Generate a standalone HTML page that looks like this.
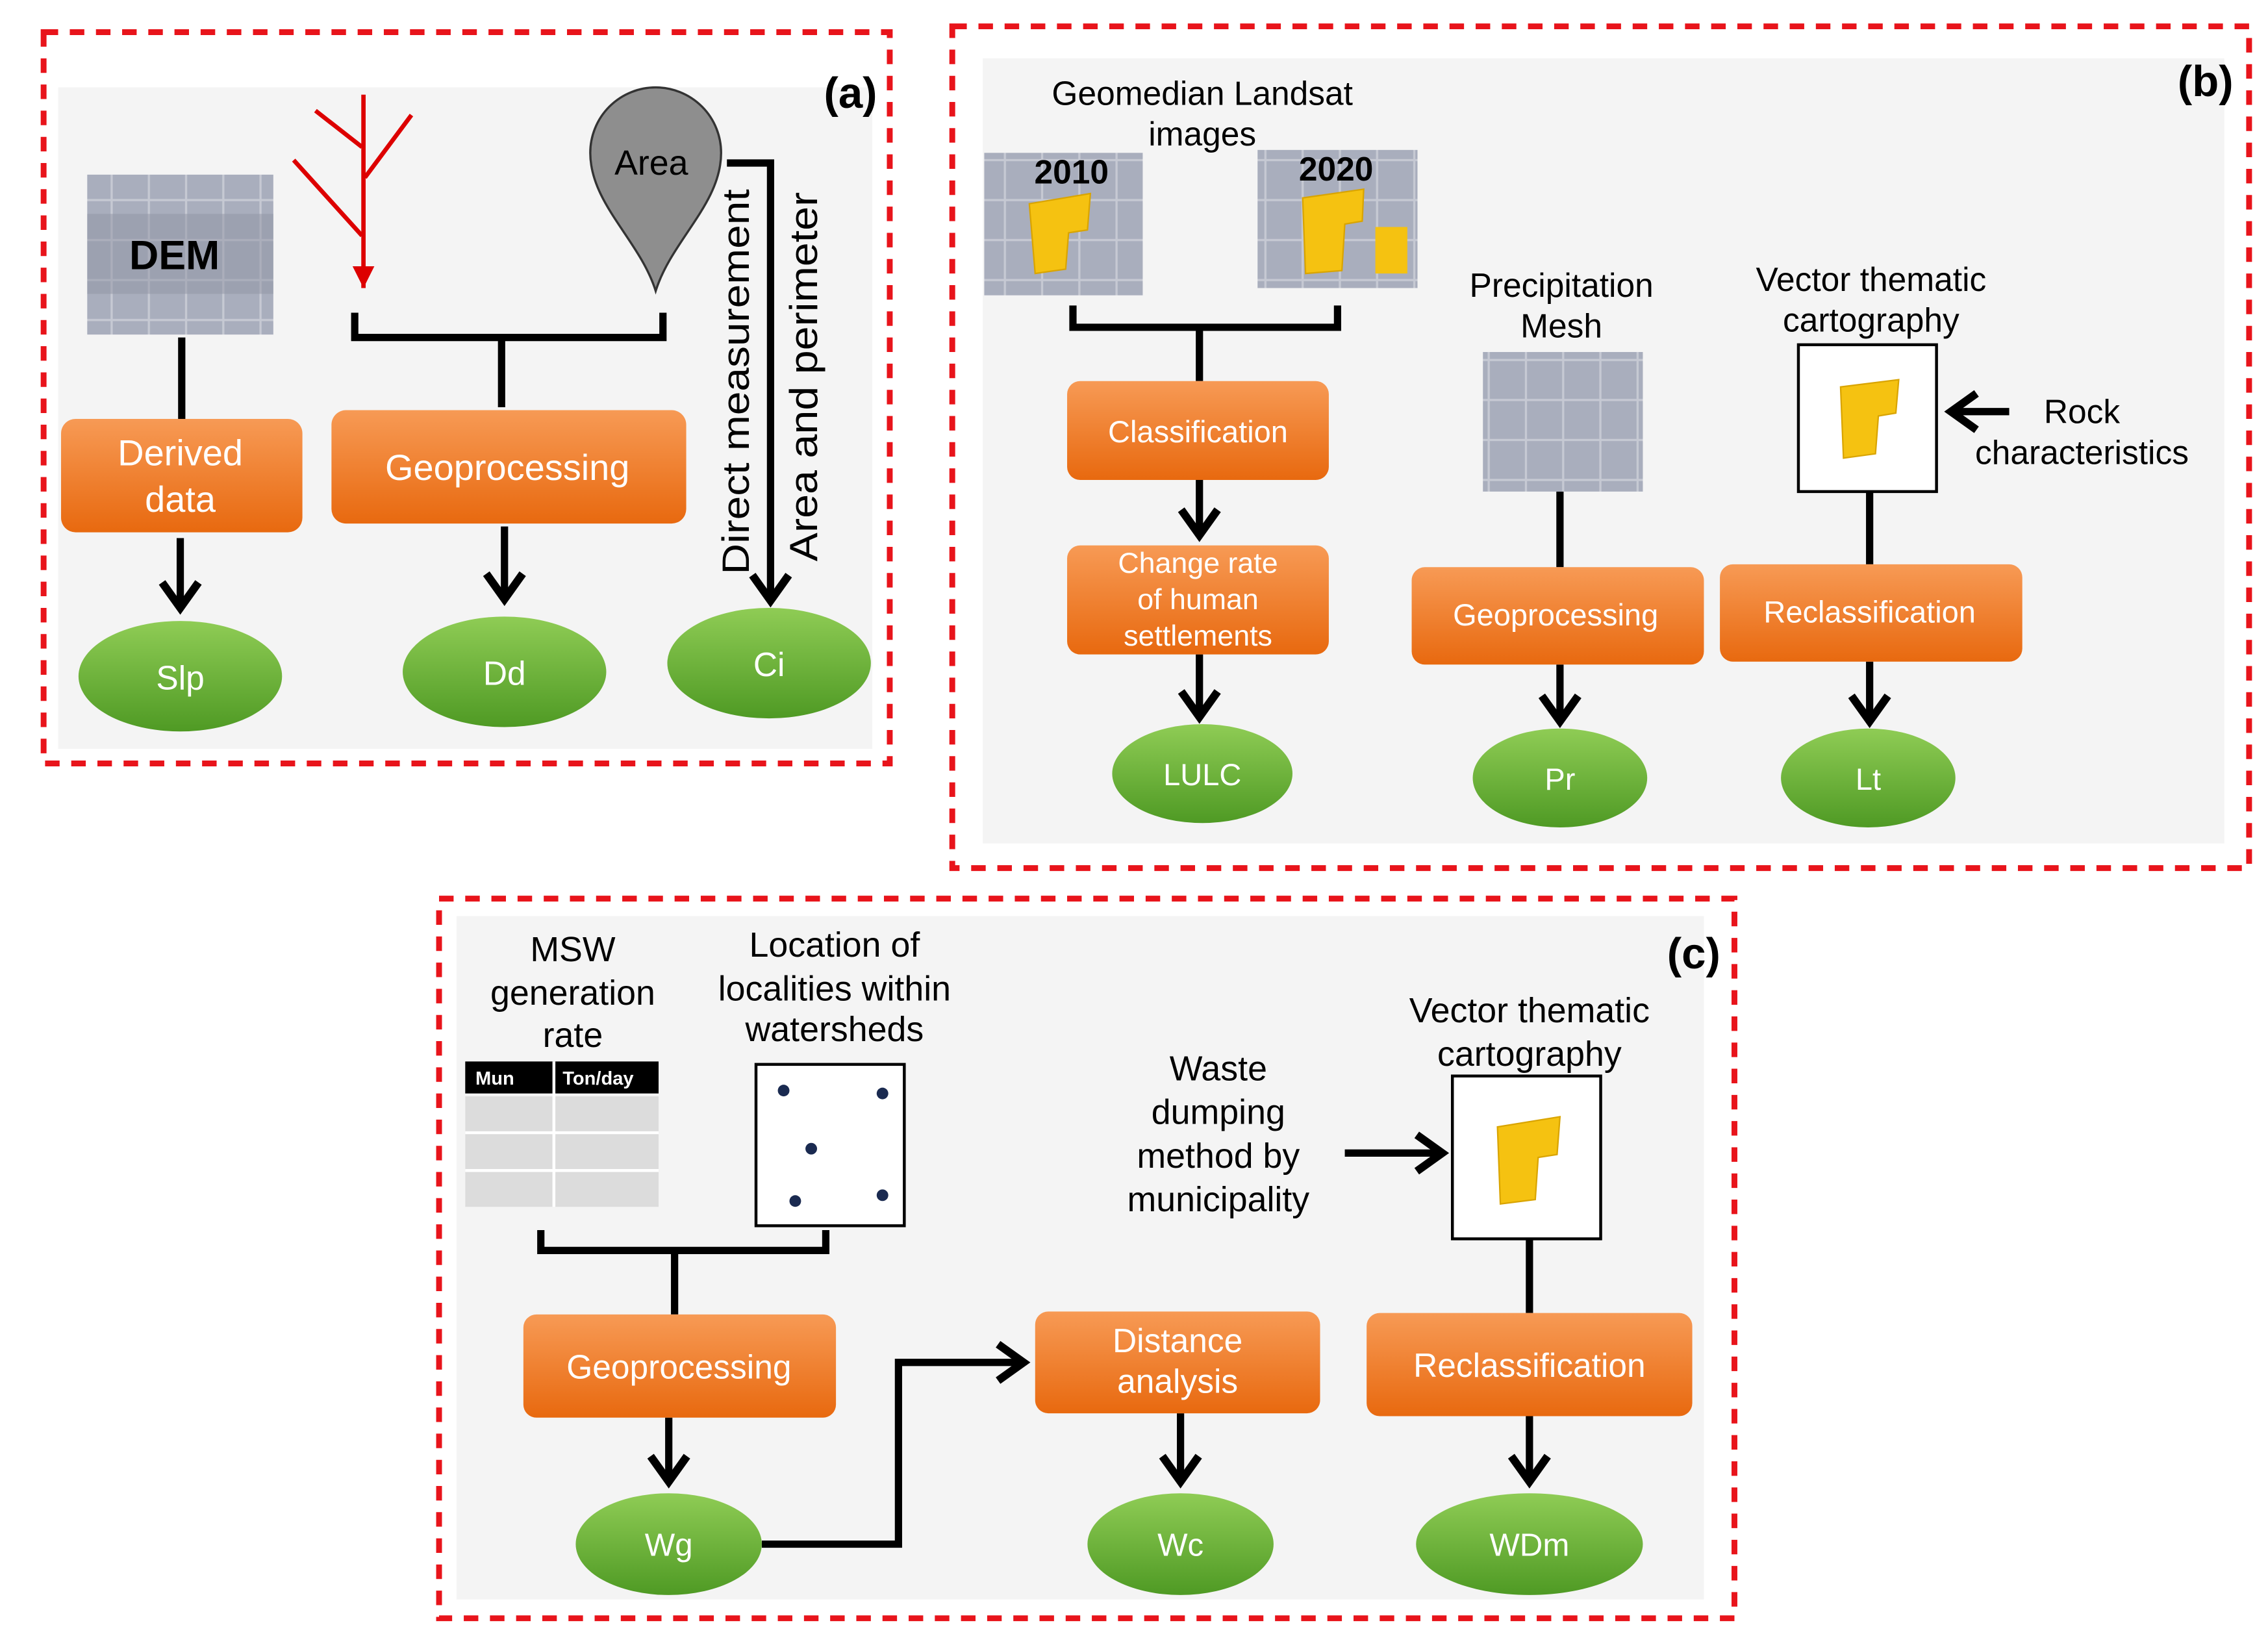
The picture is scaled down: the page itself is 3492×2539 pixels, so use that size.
<!DOCTYPE html>
<html><head><meta charset="utf-8"><style>
html,body{margin:0;padding:0;background:#fff;}
svg{display:block;}
text{font-family:"Liberation Sans",Arial,sans-serif;}
</style></head><body>
<svg width="3492" height="2539" viewBox="0 0 1560 1134" xmlns="http://www.w3.org/2000/svg">
<defs>
<linearGradient id="og" x1="0" y1="0" x2="0" y2="1"><stop offset="0" stop-color="#f79a55"/><stop offset="1" stop-color="#e8690f"/></linearGradient>
<linearGradient id="gg" x1="0" y1="0" x2="0" y2="1"><stop offset="0" stop-color="#8fcc55"/><stop offset="1" stop-color="#4f9a24"/></linearGradient>
<marker id="ah" markerWidth="6" markerHeight="6" refX="4" refY="3" orient="auto" markerUnits="strokeWidth"><path d="M0.5,0.5 L4,3 L0.5,5.5" fill="none" stroke="#000" stroke-width="1.1"/></marker>
<marker id="ar" markerWidth="6" markerHeight="6" refX="5" refY="3" orient="auto" markerUnits="strokeWidth"><path d="M0,0.5 L5,3 L0,5.5 Z" fill="#d00"/></marker>
<pattern id="grid" width="25.6" height="27.5" patternUnits="userSpaceOnUse"><rect width="25.6" height="27.5" fill="#a9aebd" stroke="#c6c9d3" stroke-width="1.5"/></pattern>
</defs>
<g stroke-linecap="butt">
<!-- Panel a -->
<rect x="40" y="60" width="560" height="455" fill="#f4f4f4"/>
<rect x="30" y="22" width="582" height="503" fill="none" stroke="#e8141b" stroke-width="4" stroke-dasharray="10,8"/>
<text x="585" y="74" font-size="30" font-weight="bold" text-anchor="middle">(a)</text>
<rect x="60" y="120" width="128" height="110" fill="url(#grid)"/>
<rect x="60" y="147" width="128" height="55" fill="#8f94a4" opacity="0.5"/>
<text x="120" y="185" font-size="28" font-weight="bold" text-anchor="middle">DEM</text>
<g stroke="#d00" stroke-width="3" fill="none">
<line x1="250" y1="65" x2="250" y2="198" marker-end="url(#ar)"/>
<line x1="202" y1="110" x2="249" y2="162"/>
<line x1="217" y1="76" x2="249" y2="101"/>
<line x1="283" y1="79" x2="251" y2="122"/>
</g>
<path d="M451,200 C440,165 406,140 406,105 A45,45 0 1 1 496,105 C496,140 462,165 451,200 Z" fill="#8e8e8e" stroke="#333" stroke-width="1.5"/>
<text x="448" y="120" font-size="24" text-anchor="middle">Area</text>
<g stroke="#000" stroke-width="5" fill="none">
<polyline points="244,215 244,232 456,232 456,215"/>
<line x1="345" y1="232" x2="345" y2="280"/>
<line x1="125" y1="232" x2="125" y2="288"/>
<line x1="124" y1="370" x2="124" y2="418" marker-end="url(#ah)"/>
<line x1="347" y1="362" x2="347" y2="412" marker-end="url(#ah)"/>
<polyline points="500,112 530,112 530,413" marker-end="url(#ah)"/>
</g>
<text transform="translate(515,395) rotate(-90)" font-size="26" textLength="265" lengthAdjust="spacingAndGlyphs">Direct measurement</text>
<text transform="translate(562,386) rotate(-90)" font-size="27" textLength="254" lengthAdjust="spacingAndGlyphs">Area and perimeter</text>
<rect x="42" y="288" width="166" height="78" rx="10" fill="url(#og)"/>
<text x="124" y="320" font-size="25" fill="#fff" text-anchor="middle">Derived</text>
<text x="124" y="352" font-size="25" fill="#fff" text-anchor="middle">data</text>
<rect x="228" y="282" width="244" height="78" rx="10" fill="url(#og)"/>
<text x="349" y="330" font-size="25" fill="#fff" text-anchor="middle">Geoprocessing</text>
<ellipse cx="124" cy="465" rx="70" ry="38" fill="url(#gg)"/>
<text x="124" y="474" font-size="23" fill="#fff" text-anchor="middle">Slp</text>
<ellipse cx="347" cy="462" rx="70" ry="38" fill="url(#gg)"/>
<text x="347" y="471" font-size="23" fill="#fff" text-anchor="middle">Dd</text>
<ellipse cx="529" cy="456" rx="70" ry="38" fill="url(#gg)"/>
<text x="529" y="465" font-size="23" fill="#fff" text-anchor="middle">Ci</text>

<!-- Panel b -->
<rect x="676" y="40" width="854" height="540" fill="#f4f4f4"/>
<rect x="655" y="18" width="892" height="579" fill="none" stroke="#e8141b" stroke-width="4" stroke-dasharray="10,8"/>
<text x="1517" y="66" font-size="30" font-weight="bold" text-anchor="middle">(b)</text>
<text x="827" y="72" font-size="23" text-anchor="middle">Geomedian Landsat</text>
<text x="827" y="100" font-size="23" text-anchor="middle">images</text>
<rect x="677" y="105" width="109" height="98" fill="url(#grid)"/>
<text x="737" y="126" font-size="23" font-weight="bold" text-anchor="middle">2010</text>
<path d="M708,140 L750,133 L748,158 L735,160 L733,185 L712,188 Z" fill="#f5c211" stroke="#d9a400"/>
<rect x="865" y="103" width="110" height="95" fill="url(#grid)"/>
<text x="919" y="124" font-size="23" font-weight="bold" text-anchor="middle">2020</text>
<path d="M896,136 L938,130 L937,152 L925,154 L923,186 L898,188 Z" fill="#f5c211" stroke="#d9a400"/>
<rect x="946" y="156" width="22" height="32" fill="#f5c211"/>
<g stroke="#000" stroke-width="5" fill="none">
<polyline points="738,210 738,225 920,225 920,210"/>
<line x1="825" y1="225" x2="825" y2="262"/>
<line x1="825" y1="330" x2="825" y2="368" marker-end="url(#ah)"/>
<line x1="825" y1="450" x2="825" y2="493" marker-end="url(#ah)"/>
<line x1="1073" y1="338" x2="1073" y2="390"/>
<line x1="1073" y1="457" x2="1073" y2="496" marker-end="url(#ah)"/>
<line x1="1286" y1="338" x2="1286" y2="388"/>
<line x1="1286" y1="455" x2="1286" y2="496" marker-end="url(#ah)"/>
<line x1="1382" y1="283" x2="1342" y2="283" marker-end="url(#ah)"/>
</g>
<rect x="734" y="262" width="180" height="68" rx="9" fill="url(#og)"/>
<text x="824" y="304" font-size="21" fill="#fff" text-anchor="middle">Classification</text>
<rect x="734" y="375" width="180" height="75" rx="9" fill="url(#og)"/>
<text x="824" y="394" font-size="20" fill="#fff" text-anchor="middle">Change rate</text>
<text x="824" y="419" font-size="20" fill="#fff" text-anchor="middle">of human</text>
<text x="824" y="444" font-size="20" fill="#fff" text-anchor="middle">settlements</text>
<ellipse cx="827" cy="532" rx="62" ry="34" fill="url(#gg)"/>
<text x="827" y="540" font-size="21" fill="#fff" text-anchor="middle">LULC</text>
<text x="1074" y="204" font-size="23" text-anchor="middle">Precipitation</text>
<text x="1074" y="232" font-size="23" text-anchor="middle">Mesh</text>
<rect x="1020" y="242" width="110" height="96" fill="url(#grid)"/>
<rect x="971" y="390" width="201" height="67" rx="9" fill="url(#og)"/>
<text x="1070" y="430" font-size="21" fill="#fff" text-anchor="middle">Geoprocessing</text>
<ellipse cx="1073" cy="535" rx="60" ry="34" fill="url(#gg)"/>
<text x="1073" y="543" font-size="21" fill="#fff" text-anchor="middle">Pr</text>
<text x="1287" y="200" font-size="23" text-anchor="middle">Vector thematic</text>
<text x="1287" y="228" font-size="23" text-anchor="middle">cartography</text>
<rect x="1237" y="237" width="95" height="101" fill="#fff" stroke="#000" stroke-width="2"/>
<path d="M1266,266 L1306,261 L1304,284 L1292,286 L1290,312 L1268,315 Z" fill="#f5c211" stroke="#d9a400"/>
<text x="1432" y="291" font-size="23" text-anchor="middle">Rock</text>
<text x="1432" y="319" font-size="23" text-anchor="middle">characteristics</text>
<rect x="1183" y="388" width="208" height="67" rx="9" fill="url(#og)"/>
<text x="1286" y="428" font-size="21" fill="#fff" text-anchor="middle">Reclassification</text>
<ellipse cx="1285" cy="535" rx="60" ry="34" fill="url(#gg)"/>
<text x="1285" y="543" font-size="21" fill="#fff" text-anchor="middle">Lt</text>

<!-- Panel c -->
<rect x="314" y="630" width="858" height="470" fill="#f4f4f4"/>
<rect x="302" y="618" width="891" height="495" fill="none" stroke="#e8141b" stroke-width="4" stroke-dasharray="10,8"/>
<text x="1165" y="666" font-size="30" font-weight="bold" text-anchor="middle">(c)</text>
<text x="394" y="661" font-size="24" text-anchor="middle">MSW</text>
<text x="394" y="691" font-size="24" text-anchor="middle">generation</text>
<text x="394" y="720" font-size="24" text-anchor="middle">rate</text>
<rect x="320" y="730" width="133" height="22" fill="#000"/>
<text x="327" y="746" font-size="13" fill="#fff" font-weight="bold">Mun</text>
<text x="387" y="746" font-size="13" fill="#fff" font-weight="bold">Ton/day</text>
<rect x="320" y="754" width="133" height="76" fill="#dcdcdc"/>
<g stroke="#fff" stroke-width="2"><line x1="381" y1="730" x2="381" y2="830"/><line x1="320" y1="779" x2="453" y2="779"/><line x1="320" y1="805" x2="453" y2="805"/></g>
<text x="574" y="658" font-size="24" text-anchor="middle">Location of</text>
<text x="574" y="688" font-size="24" text-anchor="middle">localities within</text>
<text x="574" y="716" font-size="24" text-anchor="middle">watersheds</text>
<rect x="520" y="732" width="102" height="111" fill="#fff" stroke="#000" stroke-width="2"/>
<g fill="#1a2a50"><circle cx="539" cy="750" r="4"/><circle cx="607" cy="752" r="4"/><circle cx="558" cy="790" r="4"/><circle cx="547" cy="826" r="4"/><circle cx="607" cy="822" r="4"/></g>
<text x="838" y="743" font-size="24" text-anchor="middle">Waste</text>
<text x="838" y="773" font-size="24" text-anchor="middle">dumping</text>
<text x="838" y="803" font-size="24" text-anchor="middle">method by</text>
<text x="838" y="833" font-size="24" text-anchor="middle">municipality</text>
<text x="1052" y="703" font-size="24" text-anchor="middle">Vector thematic</text>
<text x="1052" y="733" font-size="24" text-anchor="middle">cartography</text>
<rect x="999" y="740" width="102" height="112" fill="#fff" stroke="#000" stroke-width="2"/>
<path d="M1030,775 L1073,768 L1071,794 L1058,796 L1056,825 L1032,828 Z" fill="#f5c211" stroke="#d9a400"/>
<g stroke="#000" stroke-width="5" fill="none">
<polyline points="372,846 372,860 568,860 568,846"/>
<line x1="464" y1="860" x2="464" y2="904"/>
<line x1="460" y1="975" x2="460" y2="1019" marker-end="url(#ah)"/>
<polyline points="524,1062 618,1062 618,937 704,937" marker-end="url(#ah)"/>
<line x1="812" y1="972" x2="812" y2="1019" marker-end="url(#ah)"/>
<line x1="925" y1="793" x2="992" y2="793" marker-end="url(#ah)"/>
<line x1="1052" y1="852" x2="1052" y2="903"/>
<line x1="1052" y1="974" x2="1052" y2="1019" marker-end="url(#ah)"/>
</g>
<rect x="360" y="904" width="215" height="71" rx="9" fill="url(#og)"/>
<text x="467" y="948" font-size="23" fill="#fff" text-anchor="middle">Geoprocessing</text>
<rect x="712" y="902" width="196" height="70" rx="9" fill="url(#og)"/>
<text x="810" y="930" font-size="23" fill="#fff" text-anchor="middle">Distance</text>
<text x="810" y="958" font-size="23" fill="#fff" text-anchor="middle">analysis</text>
<rect x="940" y="903" width="224" height="71" rx="9" fill="url(#og)"/>
<text x="1052" y="947" font-size="23" fill="#fff" text-anchor="middle">Reclassification</text>
<ellipse cx="460" cy="1062" rx="64" ry="35" fill="url(#gg)"/>
<text x="460" y="1070" font-size="22" fill="#fff" text-anchor="middle">Wg</text>
<ellipse cx="812" cy="1062" rx="64" ry="35" fill="url(#gg)"/>
<text x="812" y="1070" font-size="22" fill="#fff" text-anchor="middle">Wc</text>
<ellipse cx="1052" cy="1062" rx="78" ry="35" fill="url(#gg)"/>
<text x="1052" y="1070" font-size="22" fill="#fff" text-anchor="middle">WDm</text>
</g>
</svg>
</body></html>
